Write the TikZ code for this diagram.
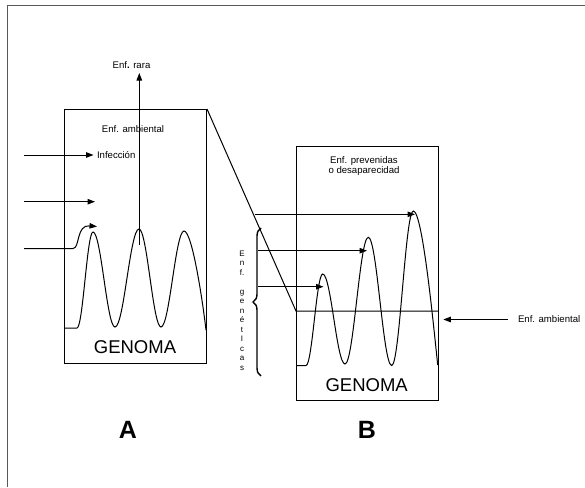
\documentclass[tikz,border=0pt]{standalone}
\usepackage{fontspec}
\setmainfont{Liberation Sans}
\usetikzlibrary{arrows.meta,decorations.pathreplacing}
\begin{document}
\begin{tikzpicture}[x=1pt,y=-1pt,line width=1pt,
  arr/.style={-{Triangle[length=7.5pt,width=5.5pt]}},
  lbl/.style={inner sep=0pt,font=\fontsize{9.6}{10.5}\selectfont},
  big/.style={inner sep=0pt,font=\fontsize{18.5}{20}\selectfont},
  panel/.style={inner sep=0pt,font=\fontsize{25}{28}\selectfont\bfseries},
  box/.style={draw,inner sep=0pt,minimum width=142pt,minimum height=254pt,anchor=north west},
  frame/.style={draw=black!65,line width=1.3pt},
  wave/.style={line width=1pt}]
\useasboundingbox (0,0) rectangle (585,487);
\draw[frame] (7.5,487) -- (7.5,5.5) -- (585,5.5);

% boxes
\node[box] (boxA) at (64,109) {};
\node[box] (boxB) at (296,146) {};

% texts in A
\node[lbl] (ambA) at (133,129) {Enf. ambiental};
\node[lbl,anchor=west] (inf) at (96.5,155) {Infección};
\node[lbl] (rara) at (131.5,65) {Enf{\bfseries .} rara};
\node[big] (genA) at (135,347) {GENOMA};
\node[panel] (pA) at (128,430) {A};

% texts in B
\node[lbl,align=center,font=\fontsize{9.6}{10}\selectfont] (prev) at (364,166.5) {Enf. prevenidas\\o desaparecidad};
\node[big] (genB) at (366.7,385.5) {GENOMA};
\node[panel] (pB) at (367,430) {B};
\node[lbl,anchor=west] (ambB) at (517.5,319.5) {Enf. ambiental};
\node[inner sep=0pt,align=center,font=\fontsize{8}{9.5}\selectfont] (gen) at (242,310.5)
  {E\\n\\f.\\\mbox{}\\g\\e\\n\\é\\t\\I\\c\\a\\s};

% wave A
\draw[wave] (64,328) -- (77,328)
  .. controls (82.9,328) and (87.1,232) .. (93,232)
  .. controls (101.1,232) and (106.9,327) .. (115,327)
  .. controls (123.9,327) and (130.1,229) .. (139,229)
  .. controls (147.1,229) and (152.9,327) .. (161,327)
  .. controls (169.5,327) and (175.5,231) .. (184,231)
  .. controls (192.1,231) and (202.5,300) .. (206,330);

% wave B
\draw[wave] (296,365.5) -- (306,365.5)
  .. controls (312.2,365.5) and (316.5,274) .. (322.7,274)
  .. controls (331,274) and (336.7,364) .. (345,364)
  .. controls (353.6,364) and (359.7,237.3) .. (368.3,237.3)
  .. controls (377,237.3) and (383,365.5) .. (391.7,365.5)
  .. controls (399.7,365.5) and (405.3,211) .. (413.3,211)
  .. controls (422.3,211) and (433,320) .. (437.7,365);

% arrows in A
\coordinate (a1s) at (24,155);
\coordinate (a1e) at (93.5,155);
\draw[arr] (a1s) -- (a1e);
\coordinate (a2s) at (24,201.7);
\coordinate (a2e) at (95,201.7);
\draw[arr] (a2s) -- (a2e);
\coordinate (a3s) at (24,248.5);
\coordinate (a3k) at (73,248.5);
\coordinate (a3e) at (97,226.5);
\draw[arr] (a3s) -- (a3k) .. controls (80,248.5) and (76,224.5) .. (a3e);
\coordinate (rs) at (139.3,245);
\coordinate (re) at (139.3,73);
\draw[arr] (rs) -- (re);

% link A -> B
\coordinate (hl) at (296,311);
\coordinate (hr) at (438,311);
\draw (boxA.north east) -- (hl) -- (hr);

% arrows into B
\coordinate (b1s) at (255,214.3);
\coordinate (b1e) at (415,214.3);
\draw[arr] (b1s) -- (b1e);
\coordinate (b2s) at (258.3,250.7);
\coordinate (b2e) at (367,250.7);
\draw[arr] (b2s) -- (b2e);
\coordinate (b3s) at (258.3,286.7);
\coordinate (b3e) at (323.5,286.7);
\draw[arr] (b3s) -- (b3e);

% ambient arrow right
\coordinate (ae) at (443.3,319.5);
\draw[arr] (ambB.west) ++(-9.5,0) coordinate (as) (as) -- (ae);

% brace
\coordinate (brb) at (261,376);
\coordinate (brt) at (261,228);
\draw[decorate,decoration={brace,amplitude=8pt},line width=1.4pt] (brb) -- (brt);
\end{tikzpicture}
\end{document}
